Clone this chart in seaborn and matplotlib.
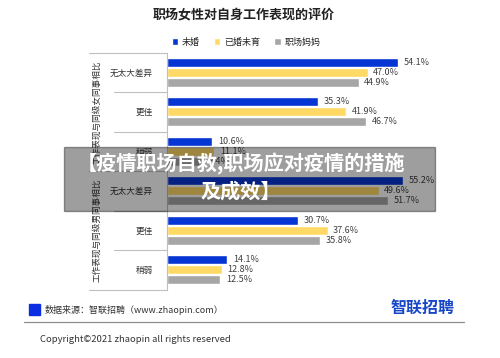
import numpy as np
import pandas as pd
import matplotlib
matplotlib.use("Agg")
import matplotlib.pyplot as plt
import matplotlib.transforms as mtransforms
from matplotlib.patches import Rectangle
import seaborn as sns

# data
groups = ["工作表现与同级女同事相比", "工作表现与同级男同事相比"]
levels = ["无太大差异", "更佳", "稍弱"]
statuses = ["未婚", "已婚未育", "职场妈妈"]
vals_female = {"未婚": [54.1, 35.3, 10.6],
               "已婚未育": [47.0, 41.9, 11.1],
               "职场妈妈": [44.9, 46.7, 8.4]}
vals_male = {"未婚": [55.2, 30.7, 14.1],
             "已婚未育": [49.6, 37.6, 12.8],
             "职场妈妈": [51.7, 35.8, 12.5]}
colors = ["#0535d2", "#ffd966", "#a6a6a6"]

rows = []
for g, vals in zip(groups, [vals_female, vals_male]):
    for i, lv in enumerate(levels):
        for s in statuses:
            rows.append({"row": f"{g}|{lv}", "level": lv, "status": s,
                         "value": vals[s][i]})
df = pd.DataFrame(rows)
row_order = [f"{g}|{lv}" for g in groups for lv in levels]

sns.set_theme(style="white")
plt.rcParams["font.family"] = ["Noto Sans CJK SC", "DejaVu Sans"]

W, H = 500, 358
fig = plt.figure(figsize=(W / 100, H / 100), dpi=100)
ax_l, ax_r, ax_t, ax_b = 167, 423, 52.5, 289.5
ax = fig.add_axes([ax_l / W, 1 - ax_b / H, (ax_r - ax_l) / W, (ax_b - ax_t) / H])

sns.barplot(data=df, y="row", x="value", hue="status", order=row_order,
            hue_order=statuses, palette=colors, orient="h", width=0.76,
            gap=0.06, ax=ax, legend=True, saturation=1)

for c in ax.containers:
    ax.bar_label(c, fmt="%.1f%%", padding=4, fontsize=6.5, color="#404040")

ax.set_xlim(0, (ax_r - ax_l) / 4.27)
ax.set_ylim(len(row_order) - 0.5, -0.5)
ax.set_xlabel("")
ax.set_ylabel("")
ax.set_xticks([])
ax.set_yticks(range(len(row_order)))
ax.set_yticklabels([r.split("|")[1] for r in row_order], fontsize=6.2,
                   color="#333333")
ax.tick_params(axis="y", length=0, pad=10)
for side in ["top", "right", "bottom"]:
    ax.spines[side].set_visible(False)
ax.spines["left"].set_color("#bfbfbf")
ax.spines["left"].set_linewidth(0.8)

# separators in the label area
trans = mtransforms.blended_transform_factory(ax.transAxes, ax.transData)
short_x = (114 - ax_l) / (ax_r - ax_l)
long_x = (89 - ax_l) / (ax_r - ax_l)
for yb in [-0.5, 0.5, 1.5, 2.5, 3.5, 4.5, 5.5]:
    x0 = long_x if yb in (-0.5, 2.5, 5.5) else short_x
    ax.plot([x0, 0], [yb, yb], color="#bfbfbf", lw=0.8, transform=trans,
            clip_on=False)

# group labels, vertical
for gi, g in enumerate(groups):
    yc = gi * 3 + 1
    ax.text((97 - ax_l) / (ax_r - ax_l), yc, g, rotation=90, ha="center",
            va="center", fontsize=6.2, color="#333333", transform=trans)

# legend
sns.move_legend(ax, "center", bbox_to_anchor=(246 / W, 1 - 42 / H),
                bbox_transform=fig.transFigure, ncol=3, frameon=False,
                title=None, fontsize=6.5, handlelength=0.7, handleheight=0.7,
                handletextpad=0.4, columnspacing=1.6)

fig.text(244 / W, 1 - 14 / H, "职场女性对自身工作表现的评价", ha="center",
         va="center", fontsize=9.4, fontweight="bold", color="#222222")

# footer
fig.patches.append(Rectangle((29 / W, 1 - 315 / H), 11 / W, 11 / H,
                             transform=fig.transFigure, color="#0a2ee0"))
fig.text(45 / W, 1 - 310 / H, "数据来源：智联招聘（www.zhaopin.com）",
         ha="left", va="center", fontsize=6.5, color="#333333")
fig.text(455 / W, 1 - 308 / H, "智联招聘", ha="right", va="center",
         fontsize=11.5, fontweight="bold", color="#1747c8")
fig.lines.append(plt.Line2D([24 / W, 464 / W], [1 - 322 / H, 1 - 322 / H],
                            transform=fig.transFigure, color="#8c8c8c", lw=0.9))
fig.text(40 / W, 1 - 339 / H, "Copyright©2021 zhaopin all rights reserved",
         ha="left", va="center", fontsize=6.8, color="#333333")

# translucent banner across the middle
fig.patches.append(Rectangle((64 / W, 1 - 211 / H), (435 - 64) / W, 64 / H,
                             transform=fig.transFigure, color="black",
                             alpha=0.38, zorder=10))
fig.text(241 / W, 1 - 177 / H, "【疫情职场自救,职场应对疫情的措施\n及成效】",
         ha="center", va="center", fontsize=14.5, fontweight="bold",
         color="white", linespacing=1.3, zorder=11)

fig.savefig("out.png", dpi=100)
